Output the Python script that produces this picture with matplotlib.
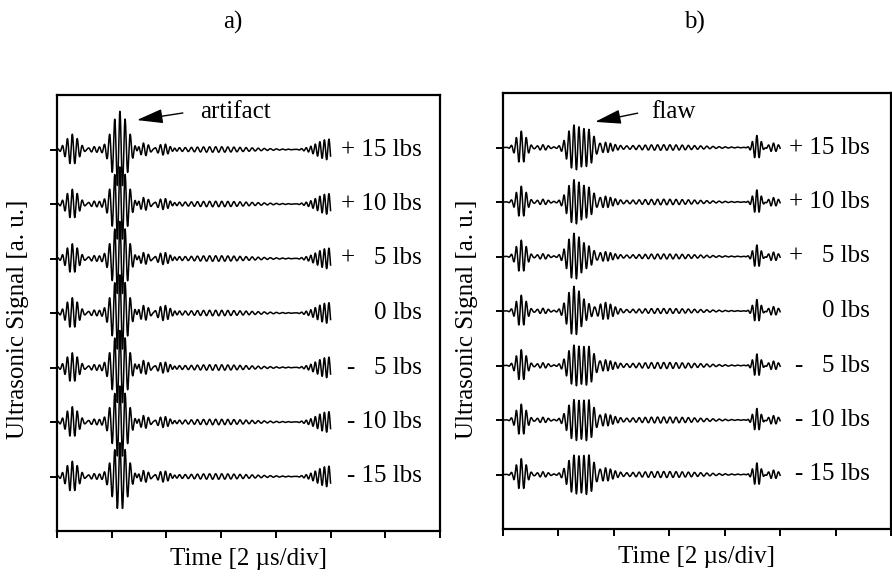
import numpy as np
import matplotlib
matplotlib.use("Agg")
import matplotlib.pyplot as plt

plt.rcParams['font.family'] = ['Liberation Serif', 'DejaVu Serif']

# ---------------- data ----------------
trace_labels = ["+ 15 lbs", "+ 10 lbs", "+   5 lbs", "0 lbs", "-   5 lbs", "- 10 lbs", "- 15 lbs"]
trace_offsets = [7, 6, 5, 4, 3, 2, 1]
time_end = 5.0   # signal length in divisions

# wave packets: centre [div], width [div], carrier [cycles/div]
a_centers = [0.28, 0.68, 1.15, 1.58, 1.98, 2.9, 4.97]
a_widths  = [0.11, 0.10, 0.14, 0.10, 0.12, 0.65, 0.22]
a_freqs   = [11.0, 10.0, 10.5, 11.0, 11.0, 9.0, 12.0]
# packet amplitudes for each trace (trace spacing = 1)
a_amps = [
    [0.28, 0.05, 0.70, 0.12, 0.10, 0.05, 0.19],
    [0.27, 0.05, 0.68, 0.12, 0.10, 0.05, 0.19],
    [0.27, 0.05, 0.68, 0.11, 0.11, 0.05, 0.19],
    [0.28, 0.05, 0.70, 0.14, 0.14, 0.05, 0.19],
    [0.27, 0.05, 0.68, 0.13, 0.10, 0.05, 0.19],
    [0.28, 0.05, 0.66, 0.12, 0.10, 0.05, 0.19],
    [0.28, 0.05, 0.62, 0.11, 0.10, 0.05, 0.19],
]

b_centers = [0.33, 0.72, 1.28, 1.55, 1.85, 2.9, 4.58, 4.88]
b_widths  = [0.09, 0.10, 0.12, 0.11, 0.13, 0.65, 0.07, 0.09]
b_freqs   = [11.0, 10.0, 11.0, 11.0, 11.0, 9.0, 12.0, 11.0]
b_amps = [
    [0.30, 0.05, 0.40, 0.30, 0.11, 0.05, 0.22, 0.08],
    [0.29, 0.05, 0.40, 0.24, 0.12, 0.05, 0.22, 0.08],
    [0.30, 0.05, 0.42, 0.16, 0.10, 0.045, 0.21, 0.08],
    [0.29, 0.05, 0.45, 0.10, 0.17, 0.045, 0.21, 0.08],
    [0.29, 0.05, 0.36, 0.32, 0.12, 0.055, 0.21, 0.08],
    [0.29, 0.05, 0.36, 0.34, 0.13, 0.055, 0.21, 0.08],
    [0.29, 0.05, 0.34, 0.33, 0.14, 0.055, 0.21, 0.08],
]

panel_titles = ["a)", "b)"]
arrow_texts = ["artifact", "flaw"]

# ---------------- drawing ----------------
fig = plt.figure(figsize=(8.92, 5.81), dpi=100)
ax_a = fig.add_axes([57/892, 1-531/581, (440-57)/892, (531-95)/581])
ax_b = fig.add_axes([503/892, 1-529/581, (891-503)/892, (529-93)/581])

t = np.linspace(0, time_end, 3000)


def build(amps, centers, widths, freqs):
    s = np.zeros_like(t)
    for a, c, w, f in zip(amps, centers, widths, freqs):
        s += a * np.exp(-0.5 * ((t - c) / w) ** 2) * np.cos(2 * np.pi * f * (t - c))
    return s


for ax, centers, widths, freqs, amps, lab_x in [
        (ax_a, a_centers, a_widths, a_freqs, a_amps, 6.67),
        (ax_b, b_centers, b_widths, b_freqs, b_amps, 6.61)]:
    for off, lab, am in zip(trace_offsets, trace_labels, amps):
        ax.plot(t, off + build(am, centers, widths, freqs), color='black', lw=1.1)
        ax.text(lab_x, off, lab, ha='right', va='center', fontsize=18)
    ax.set_xlim(0, 7)
    ax.set_ylim(0, 8)
    ax.set_xticks(range(0, 8))
    ax.set_yticks(trace_offsets)
    ax.set_xticklabels([])
    ax.set_yticklabels([])
    ax.tick_params(direction='out', length=5, width=1.4)
    for sp in ax.spines.values():
        sp.set_linewidth(1.6)
    ax.set_xlabel("Time [2 µs/div]", fontsize=18, labelpad=4)

arrow_props = dict(arrowstyle='-|>,head_length=0.8,head_width=0.22',
                   lw=1.0, color='black', mutation_scale=20,
                   shrinkA=0, shrinkB=0)
ax_a.annotate('', xy=(1.46, 7.54), xytext=(2.3, 7.67), arrowprops=arrow_props)
ax_a.text(2.61, 7.69, arrow_texts[0], fontsize=18, va='center', ha='left')
ax_b.annotate('', xy=(1.66, 7.47), xytext=(2.43, 7.63), arrowprops=arrow_props)
ax_b.text(2.68, 7.65, arrow_texts[1], fontsize=18, va='center', ha='left')

fig.text(233/892, 1-22/581, panel_titles[0], fontsize=18, ha='center', va='center')
fig.text(694/892, 1-22/581, panel_titles[1], fontsize=18, ha='center', va='center')
fig.text(18/892, 1-319/581, "Ultrasonic Signal [a. u.]", fontsize=18,
         rotation=90, ha='center', va='center')
fig.text(467/892, 1-319/581, "Ultrasonic Signal [a. u.]", fontsize=18,
         rotation=90, ha='center', va='center')

fig.savefig("out.png", dpi=100)
